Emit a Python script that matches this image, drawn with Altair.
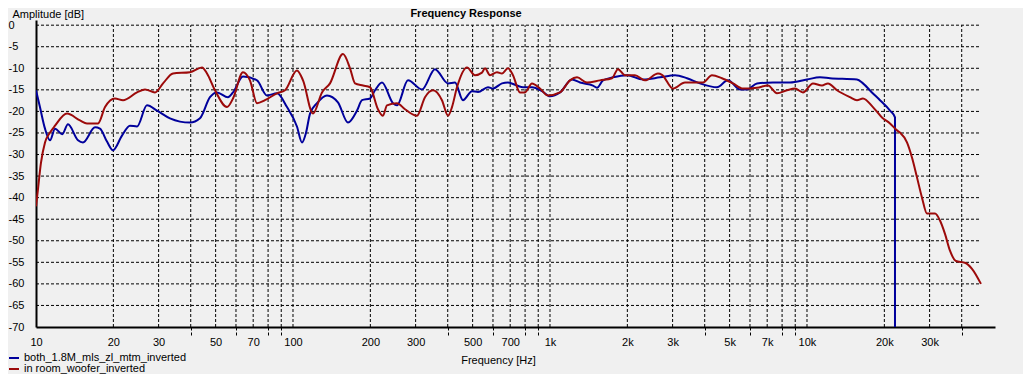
import altair as alt
import pandas as pd

blue_name = "both_1.8M_mls_zl_mtm_inverted"
red_name = "in room_woofer_inverted"

blue_freq = [10, 10.36, 10.84, 11.34, 11.86, 12.63, 13.32, 14.57, 15.23, 16.97, 17.74, 18.89, 19.93,
             21.61, 23.21, 24.72, 27.03, 29.57, 33.21, 39.73, 43.46, 47.53, 50.61, 55.86, 58.42, 63.89,
             72.44, 79.21, 86.64, 94.76, 103.6, 108.4, 112.3, 116.5, 124.0, 135.6, 149.6, 163.7, 177.5,
             185.6, 199.4, 208.5, 222.0, 245.0, 253.9, 280.2, 317.6, 356.9, 401.0, 426.9, 458.6, 497.3,
             524.7, 573.8, 600.1, 650.5, 686.4, 744.0, 785.1, 851.0, 930.9, 1000, 1094, 1218, 1309, 1470,
             1524, 1608, 1759, 1993, 2301, 2680, 3065, 3413, 3834, 4465, 4927, 5487, 5842, 6389, 7375,
             8587, 10000, 11233, 12289, 15651, 16515, 17896, 19233, 21038, 22000, 22000]
blue_db = [-15.1, -19, -24, -26.7, -24, -25.3, -23, -26.7, -27.2, -23.7, -24, -27, -29,
           -25.6, -23.3, -23.5, -18.6, -19.8, -21.6, -22.6, -21.6, -16.7, -15.6, -16.7, -15.6, -11.9,
           -12.8, -16.3, -15.8, -19, -23.5, -27.2, -25, -20.5, -18.1, -16.3, -17.9, -22.6, -19.8,
           -17.4, -17, -15.1, -13.3, -18.1, -18.6, -12.8, -14.9, -10.2, -13.5, -13.3, -17.4, -15.3,
           -15.5, -14.4, -14.7, -13.5, -13.3, -14, -14.4, -14.4, -15.3, -16.5, -15.6, -12.6, -13.3, -14,
           -14.5, -12.8, -12.1, -11.6, -12.6, -12.1, -11.6, -12.3, -13.5, -14.4, -12.8, -14.9, -14.9, -13.5, -13.3,
           -13.3, -12.6, -12.1, -12.3, -12.6, -13.5, -15.6, -17.4, -19.8, -21.4, -80]

red_freq = [10, 10.18, 10.45, 10.84, 11.34, 11.86, 13.20, 14.83, 15.79, 17.43, 18.56, 20.29, 21.81,
            24.72, 26.56, 29.04, 31.21, 34.13, 39.73, 44.25, 46.28, 49.71, 55.36, 58.42, 63.89, 68.0,
            72.44, 77.8, 86.64, 93.1, 103.6, 109.4, 119.6, 129.7, 139.3, 156.5, 166.7, 174.3, 187.3,
            199.4, 214.1, 223.9, 232.1, 253.9, 272.8, 303.7, 326.3, 350.5, 379.9, 401.0, 415.6, 434.6,
            475.3, 510.8, 543.7, 558.6, 584.2, 622.0, 650.5, 686.4, 717.8, 764.3, 799.3, 851.0, 914.3,
            982.2, 1094, 1196, 1274, 1393, 1565, 1743, 1839, 1958, 2141, 2342, 2632, 2728, 3011, 3352,
            3938, 4269, 4669, 5153, 5636, 6389, 7051, 7644, 8358, 8980, 9648, 10552, 11437, 12069,
            13085, 14703, 15651, 16515, 18057, 19580, 21038, 22397, 23008, 24495, 25618, 26793, 28022,
            29307, 31482, 32925, 34434, 36011, 37998, 41182, 43857, 47534]
red_db = [-42, -38, -32, -27.2, -24.9, -23.3, -20.5, -22.1, -22.8, -22.8, -19, -17, -17.4,
          -15.6, -14.9, -15.6, -13.5, -11.2, -10.9, -9.8, -11.2, -15.1, -19, -17, -10.9, -12.8,
          -18.1, -17.4, -15.8, -15.1, -10.5, -12.8, -20.5, -15.6, -13.5, -6.7, -10, -13.5, -14,
          -14.4, -19.5, -21, -18.6, -18.1, -19.5, -21, -16.7, -15.1, -17.4, -21, -19, -14.4,
          -9.8, -11.6, -11, -10, -11.6, -10.9, -11.2, -10, -11.6, -15.6, -15.6, -13.5, -14.7,
          -16.3, -15.6, -12.8, -12.1, -13.3, -12.8, -12.3, -10.2, -11.6, -11.6, -12.8, -11.2, -11.5, -14.7, -13.3,
          -13.3, -11.6, -12.3, -13.5, -14.7, -14.5, -14, -15.8, -15.1, -14.7, -15.6, -13.5, -14, -13.5,
          -15.1, -16.7, -17.4, -17, -19, -21.4, -22.8, -24.4, -24.9, -27.2, -30.7, -35.3, -40,
          -43.7, -43.7, -45.3, -48.4, -52.3, -54.7, -55.1, -56.5, -60]

y_ticks = [-70, -65, -60, -55, -50, -45, -40, -35, -30, -25, -20, -15, -10, -5, 0]
x_grid = [10, 20, 30, 40, 50, 60, 70, 80, 90, 100, 200, 300, 400, 500, 600, 700, 800, 900,
          1000, 2000, 3000, 4000, 5000, 6000, 7000, 8000, 9000, 10000, 20000, 30000, 40000]
x_labeled = [10, 20, 30, 50, 70, 100, 200, 300, 500, 700, 1000, 2000, 3000, 5000, 7000,
             10000, 20000, 30000]
chart_title = "Frequency Response"

FONT = "Liberation Sans"

rows = []
for i, (f, d) in enumerate(zip(blue_freq, blue_db)):
    rows.append({"f": f, "db": d, "series": blue_name, "i": i})
for i, (f, d) in enumerate(zip(red_freq, red_db)):
    rows.append({"f": f, "db": d, "series": red_name, "i": i})
df = pd.DataFrame(rows)

fmin = min(blue_freq + red_freq)
fmax = max(blue_freq + red_freq)
hgrid = pd.DataFrame({"y": y_ticks[1:], "x": fmin, "x2": fmax})
vgrid = pd.DataFrame({"x": x_grid[1:], "y": min(y_ticks), "y2": max(y_ticks)})

xscale = alt.Scale(type="log", domain=[10, 53900], nice=False)
yscale = alt.Scale(domain=[-70, 1.2], nice=False, zero=False)

labeled_js = "[" + ",".join(str(v) for v in x_labeled) + "]"

x_axis = alt.Axis(
    values=x_grid,
    labelExpr=f"indexof({labeled_js}, datum.value) < 0 ? '' : (datum.value >= 1000 ? (datum.value/1000) + 'k' : '' + datum.value)",
    grid=False, domainColor="black", domainWidth=2,
    tickColor="black", tickSize=8, tickWidth=1, tickDash=[3, 2],
    tickOpacity={"condition": {"test": f"indexof({labeled_js}, datum.value) >= 0", "value": 0}, "value": 1},
    labelPadding=1, labelFont=FONT, labelFontSize=11, labelColor="black",
    labelFlush=False, labelOverlap=False, labelBound=False,
    title="Frequency [Hz]", titleX=462, titleY=33, titleAlign="center", titleBaseline="middle",
    titleFont=FONT, titleFontSize=11, titleFontWeight="normal", titleColor="black",
)
y_axis = alt.Axis(
    values=y_ticks, labelExpr="'' + datum.value",
    grid=False, ticks=False, tickSize=0, domainColor="black", domainWidth=2,
    labelAlign="left", labelBaseline="middle", labelPadding=28,
    labelFont=FONT, labelFontSize=11, labelColor="black", labelFlush=False, labelOverlap=False,
    title="Amplitude [dB]", titleAngle=0, titleAlign="left", titleBaseline="alphabetic",
    titleX=-24, titleY=-3, titleFont=FONT, titleFontSize=11, titleFontWeight="normal", titleColor="black",
)

hg = alt.Chart(hgrid).mark_rule(color="black", strokeWidth=1, strokeDash=[3, 2]).encode(
    y=alt.Y("y:Q", scale=yscale, axis=y_axis),
    x=alt.X("x:Q", scale=xscale, axis=x_axis),
    x2="x2:Q",
)
vg = alt.Chart(vgrid).mark_rule(color="black", strokeWidth=1, strokeDash=[3, 2]).encode(
    x=alt.X("x:Q", scale=xscale, axis=x_axis),
    y=alt.Y("y:Q", scale=yscale, axis=y_axis),
    y2="y2:Q",
)
lines = alt.Chart(df).mark_line(strokeWidth=2, clip=True, interpolate="monotone").encode(
    x=alt.X("f:Q", scale=xscale, axis=x_axis),
    y=alt.Y("db:Q", scale=yscale, axis=y_axis),
    order="i:Q",
    color=alt.Color(
        "series:N",
        scale=alt.Scale(domain=[blue_name, red_name], range=["#00009c", "#9c0a0a"]),
        sort=[blue_name, red_name],
        legend=alt.Legend(
            orient="none", legendX=-28, legendY=332, title=None,
            symbolType="stroke", symbolSize=100, symbolStrokeWidth=2,
            labelFont=FONT, labelFontSize=11, labelColor="black", labelLimit=400,
            rowPadding=0, padding=0, labelOffset=4,
        ),
    ),
)
title_txt = alt.Chart(pd.DataFrame({"t": [chart_title]})).mark_text(
    font=FONT, fontSize=11, fontWeight="bold", color="black", align="center", baseline="alphabetic",
).encode(text="t:N", x=alt.value(430), y=alt.value(-3))

chart = alt.layer(hg, vg, lines, title_txt).properties(
    width=959, height=307,
    autosize=alt.AutoSizeParams(type="none"),
    padding={"left": 28, "top": 12, "right": 28, "bottom": 47},
    background="#f0f0f0",
).configure_view(strokeWidth=0)

chart.save("out.html", embed_options={"renderer": "svg", "actions": False})
